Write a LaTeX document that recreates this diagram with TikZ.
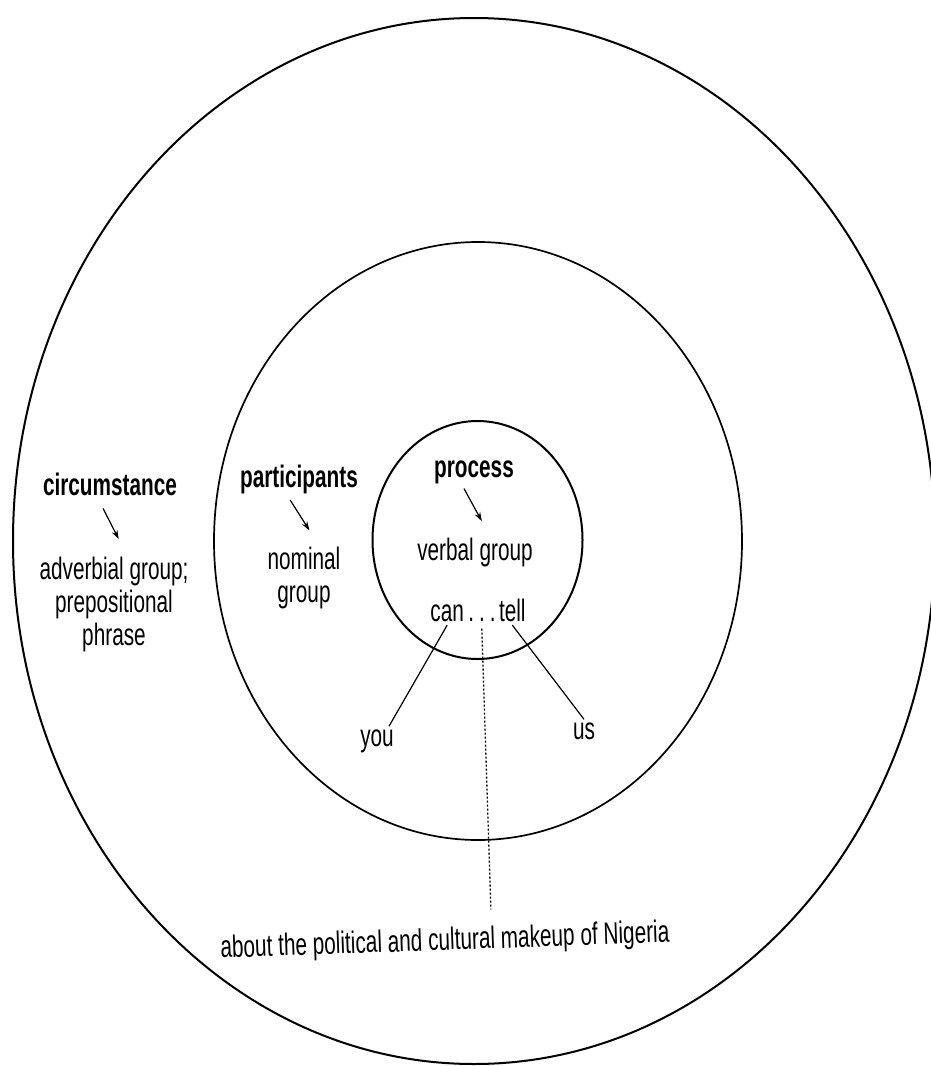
\documentclass[tikz,border=0pt]{standalone}
\usepackage{fontspec}
\setmainfont{Liberation Sans}[FakeStretch=0.67]
\usepackage{tikz}
\usetikzlibrary{arrows.meta, positioning}

\begin{document}
\begin{tikzpicture}[
        x=1pt, y=-1pt,
        ring/.style={draw=black, line width=2pt},
        head/.style={font=\fontsize{31}{33}\selectfont\bfseries, inner sep=3pt},
        txt/.style={font=\fontsize{31}{33}\selectfont, align=center, inner sep=3pt},
        link/.style={draw=black, line width=1.2pt},
        arrow/.style={-{Stealth[length=9pt, width=6pt]}, line width=1.2pt, draw=black},
        dotline/.style={draw=black, line width=1.3pt, dash pattern=on 2pt off 2pt},
    ]
        \useasboundingbox (0,0) rectangle (931,1066);

        % Rings
        \draw[ring] (474,541) ellipse [x radius=461, y radius=523];
        \draw[ring, line width=1.7pt] (478,541) ellipse [x radius=264, y radius=299];
        \draw[ring] (477.5,540) ellipse [x radius=105, y radius=119];

        % Labels
        \node[head] (circ) at (110,484) {circumstance};
        \node[txt] (adv) at (114,604) {adverbial group;\\prepositional\\phrase};
        \node[head] (part) at (299,479) {participants};
        \node[txt] (nom) at (304,578) {nominal\\group};
        \node[head] (proc) at (474,472) {process};
        \node[txt] (verb) at (475,552) {verbal group};

        % Clause
        \node[txt] (dots) at (482,615) {\strut.\hspace{5pt}.\hspace{5pt}.};
        \node[txt, base left=-2pt of dots] (can) {can};
        \node[txt, base right=-3pt of dots] (tell) {tell};
        \node[txt] (you) at (377,741) {you};
        \node[txt] (us) at (584,731) {us};
        \node[txt, rotate=2] (about) at (445,942) {about the political and cultural makeup of Nigeria};

        % Arrows
        \draw[arrow, shorten <=11pt, shorten >=16pt] ([xshift=-12pt]circ.south) -- ([xshift=12pt]adv.north);
        \draw[arrow, shorten <=4pt, shorten >=16pt] ([xshift=-11pt]part.south) -- ([xshift=14pt]nom.north);
        \draw[arrow, shorten <=2pt, shorten >=15pt] ([xshift=-11pt]proc.south) -- ([xshift=14pt]verb.north);

        % Links
        \draw[link] (can.south) -- ([xshift=12pt]you.north);
        \draw[link] (tell.south) -- (us.north);
        \draw[dotline, shorten <=-6pt, shorten >=15pt] (dots.south) -- ([xshift=47pt]about.north);
    \end{tikzpicture}
\end{document}
